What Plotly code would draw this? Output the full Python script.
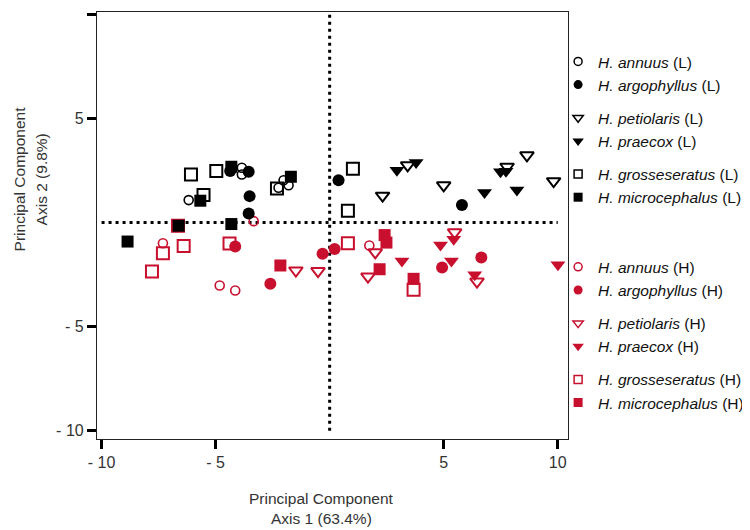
import plotly.graph_objects as go

# ---------------- data (PC1, PC2) ----------------
annuus_L_x = [-6.18, -3.85, -3.85, -2.24, -2.02, -1.80]
annuus_L_y = [1.07, 2.62, 2.30, 1.66, 2.02, 1.78]
argophyllus_L_x = [-4.36, -3.55, -3.51, -3.55, 0.39, 5.80]
argophyllus_L_y = [2.47, 2.43, 1.26, 0.43, 2.02, 0.83]
petiolaris_L_x = [2.32, 3.42, 5.00, 7.78, 8.65, 9.82]
petiolaris_L_y = [1.28, 2.74, 1.78, 2.67, 3.22, 1.98]
praecox_L_x = [2.95, 3.79, 6.79, 7.49, 7.73, 8.21]
praecox_L_y = [2.50, 2.87, 1.44, 2.43, 2.45, 1.55]
grosseseratus_L_x = [-6.08, -4.97, -5.53, -2.31, 1.02, 0.80]
grosseseratus_L_y = [2.30, 2.47, 1.31, 1.63, 2.58, 0.56]
microcephalus_L_x = [-4.31, -5.67, -1.70, -6.62, -4.31, -8.86]
microcephalus_L_y = [2.67, 1.04, 2.19, -0.16, -0.08, -0.92]

annuus_H_x = [-3.33, -7.31, -4.82, -4.14, 1.74]
annuus_H_y = [0.06, -1.00, -3.03, -3.27, -1.11]
argophyllus_H_x = [-4.14, -2.60, -0.31, 0.22, 4.93, 6.65]
argophyllus_H_y = [-1.16, -2.95, -1.51, -1.28, -2.17, -1.69]
petiolaris_H_x = [-1.48, -0.51, 2.00, 1.68, 5.48, 6.46]
petiolaris_H_y = [-2.31, -2.34, -1.44, -2.60, -0.48, -2.84]
praecox_H_x = [3.17, 4.86, 5.44, 5.34, 6.36, 10.01]
praecox_H_y = [-1.85, -1.09, -0.81, -1.85, -2.52, -2.04]
grosseseratus_H_x = [-6.65, -7.31, -6.40, -7.79, -4.39, 0.80, 3.68]
grosseseratus_H_y = [-0.16, -1.48, -1.13, -2.36, -1.02, -1.00, -3.24]
microcephalus_H_x = [-2.16, 2.41, 2.49, 2.19, 3.68]
microcephalus_H_y = [-2.07, -0.61, -0.97, -2.25, -2.71]

x_ticks = [-10, -5, 5, 10]
x_ticktext = ["- 10", "- 5", "5", "10"]
y_ticks = [10, 5, -5, -10]
y_ticktext = ["10", "5", "- 5", "- 10"]

species = ["annuus", "argophyllus", "petiolaris", "praecox", "grosseseratus", "microcephalus"]

RED = "#C8102E"
BLACK = "#000000"
FONT = "Liberation Sans, Arial, sans-serif"

data = {
    ("annuus", "L"): (annuus_L_x, annuus_L_y),
    ("argophyllus", "L"): (argophyllus_L_x, argophyllus_L_y),
    ("petiolaris", "L"): (petiolaris_L_x, petiolaris_L_y),
    ("praecox", "L"): (praecox_L_x, praecox_L_y),
    ("grosseseratus", "L"): (grosseseratus_L_x, grosseseratus_L_y),
    ("microcephalus", "L"): (microcephalus_L_x, microcephalus_L_y),
    ("annuus", "H"): (annuus_H_x, annuus_H_y),
    ("argophyllus", "H"): (argophyllus_H_x, argophyllus_H_y),
    ("petiolaris", "H"): (petiolaris_H_x, petiolaris_H_y),
    ("praecox", "H"): (praecox_H_x, praecox_H_y),
    ("grosseseratus", "H"): (grosseseratus_H_x, grosseseratus_H_y),
    ("microcephalus", "H"): (microcephalus_H_x, microcephalus_H_y),
}

style = {
    "annuus": ("circle-open", 9, 1.6),
    "argophyllus": ("circle", 12, 0),
    "petiolaris": ("triangle-down-open", 12, 2),
    "praecox": ("triangle-down", 13, 0),
    "grosseseratus": ("square-open", 12, 2),
    "microcephalus": ("square", 12, 0),
}
legend_size = {
    "annuus": 8, "argophyllus": 9, "petiolaris": 9,
    "praecox": 10, "grosseseratus": 8, "microcephalus": 9,
}
pair = {"annuus": "a", "argophyllus": "a", "petiolaris": "b",
        "praecox": "b", "grosseseratus": "c", "microcephalus": "c"}

fig = go.Figure()

for cond in ["H", "L"]:
    col = RED if cond == "H" else BLACK
    for sp in species:
        xs, ys = data[(sp, cond)]
        sym, size, lw = style[sp]
        fig.add_trace(go.Scatter(
            x=xs, y=ys, mode="markers", showlegend=False,
            marker=dict(symbol=sym, size=size, color=col,
                        line=dict(color=col, width=lw)),
        ))

for cond, leg in [("L", "legend"), ("H", "legend2")]:
    col = RED if cond == "H" else BLACK
    for sp in species:
        sym, size, lw = style[sp]
        fig.add_trace(go.Scatter(
            x=[None], y=[None], mode="markers",
            name=f"<i>H. {sp}</i> ({cond})",
            legend=leg, legendgroup=cond + pair[sp],
            marker=dict(symbol=sym, size=legend_size[sp], color=col,
                        line=dict(color=col, width=1.5 if lw else 0)),
        ))

fig.add_shape(type="line", x0=-10, x1=10, y0=0, y1=0, xref="x", yref="y",
              line=dict(color="black", width=3, dash="3px,4px"), layer="below")
fig.add_shape(type="line", x0=0, x1=0, y0=-10, y1=10, xref="x", yref="y",
              line=dict(color="black", width=3, dash="3px,4px"), layer="below")

axis_common = dict(
    showgrid=False, zeroline=False, showline=True, linecolor="#222",
    linewidth=1.2, mirror=True, ticks="outside", ticklen=9, tickwidth=2.5,
    tickcolor="black", tickfont=dict(family=FONT, size=16, color="#333"),
)

title_font = dict(family=FONT, size=15.5, color="#333")
legend_font = dict(family=FONT, size=15.5, color="#111")

fig.update_layout(
    width=750, height=530,
    margin=dict(l=89, r=190, t=4, b=99),
    plot_bgcolor="white", paper_bgcolor="white",
    xaxis=dict(range=[-10.2, 10.45], tickvals=x_ticks, ticktext=x_ticktext,
               **axis_common),
    yaxis=dict(range=[-10.4, 10.1], tickvals=y_ticks, ticktext=y_ticktext,
               **axis_common),
    legend=dict(x=0.979, y=0.923, xanchor="left", yanchor="top",
                bgcolor="rgba(0,0,0,0)", tracegroupgap=10, traceorder="grouped",
                font=legend_font),
    legend2=dict(x=0.979, y=0.442, xanchor="left", yanchor="top",
                 bgcolor="rgba(0,0,0,0)", tracegroupgap=10, traceorder="grouped",
                 font=legend_font),
    annotations=[
        dict(text="Principal Component", xref="paper", yref="paper",
             x=(313 - 89) / 471, y=-0.1385, xanchor="center", yanchor="middle",
             showarrow=False, font=title_font),
        dict(text="Axis 1 (63.4%)", xref="paper", yref="paper",
             x=(313 - 89) / 471, y=-0.1854, xanchor="center", yanchor="middle",
             showarrow=False, font=title_font),
        dict(text="Principal Component", xref="paper", yref="paper",
             x=(11 - 89) / 471, y=(431 - 172) / 426, xanchor="center",
             yanchor="middle", textangle=-90, showarrow=False, font=title_font),
        dict(text="Axis 2 (9.8%)", xref="paper", yref="paper",
             x=(33 - 89) / 471, y=(431 - 172) / 426, xanchor="center",
             yanchor="middle", textangle=-90, showarrow=False, font=title_font),
    ],
)

fig.write_html("out.html")
